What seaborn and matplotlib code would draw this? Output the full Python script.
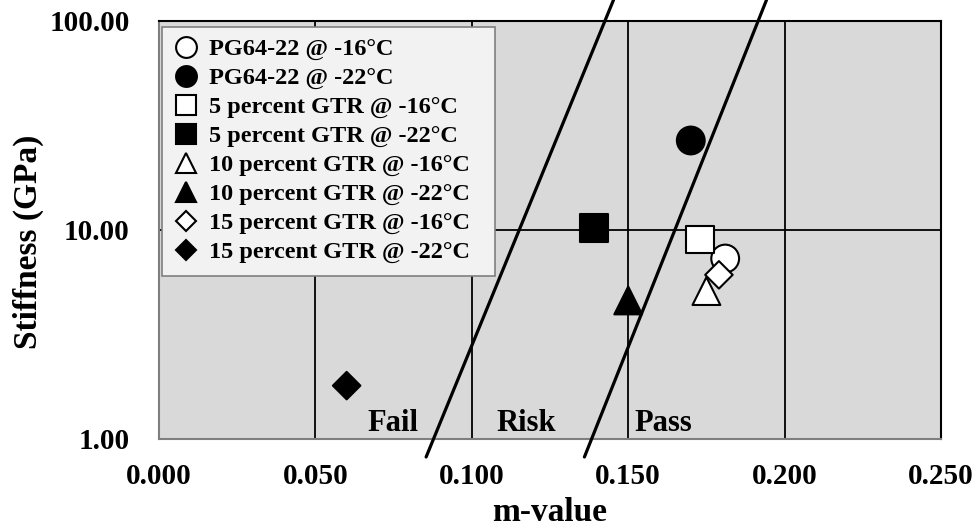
import seaborn as sns
import pandas as pd
import matplotlib.pyplot as plt
from matplotlib.lines import Line2D
from matplotlib.ticker import FixedLocator, FormatStrFormatter, NullLocator

# series
labels = ["PG64-22 @ -16°C", "PG64-22 @ -22°C",
          "5 percent GTR @ -16°C", "5 percent GTR @ -22°C",
          "10 percent GTR @ -16°C", "10 percent GTR @ -22°C",
          "15 percent GTR @ -16°C", "15 percent GTR @ -22°C"]
m_values = [0.181, 0.170, 0.173, 0.139, 0.175, 0.150, 0.179, 0.060]
stiffness = [7.3, 26.8, 9.0, 10.2, 5.1, 4.6, 6.1, 1.8]
faces = ["white", "black"] * 4
marker_list = ["o", "o", "s", "s", "^", "^", "D", "D"]
marker_pts = [20, 20, 20, 20, 20, 20, 14, 14]

# fail/risk and risk/pass boundaries (m at bottom, m at top, S range)
boundary_s = [0.82, 126]
boundary_fail = [0.0854, 0.1453]
boundary_pass = [0.136, 0.1942]

zone_names = ["Fail", "Risk", "Pass"]
zone_m = [0.0665, 0.1078, 0.152]
zone_s = 1.09

df = pd.DataFrame({"m": m_values, "S": stiffness, "series": labels})

sns.set_style("white")
plt.rcParams["font.family"] = ["Liberation Serif", "DejaVu Serif"]
plt.rcParams["font.weight"] = "bold"
for key in ["text.color", "axes.labelcolor", "xtick.color", "ytick.color"]:
    plt.rcParams[key] = "black"

fig = plt.figure(figsize=(9.77, 5.31), dpi=100)
ax = fig.add_axes([0.1627, 0.1733, 0.8005, 0.7872])
ax.set_facecolor("#d9d9d9")

ax.set_yscale("log")
ax.set_xlim(0, 0.25)
ax.set_ylim(1, 100)

ax.xaxis.set_major_locator(FixedLocator([0, 0.05, 0.10, 0.15, 0.20, 0.25]))
ax.xaxis.set_major_formatter(FormatStrFormatter("%.3f"))
ax.yaxis.set_major_locator(FixedLocator([1, 10, 100]))
ax.yaxis.set_major_formatter(FormatStrFormatter("%.2f"))
ax.yaxis.set_minor_locator(NullLocator())
ax.grid(True, color="black", linewidth=1.3)
ax.set_axisbelow(True)

for side in ["left", "bottom"]:
    ax.spines[side].set_color("#7f7f7f")
    ax.spines[side].set_linewidth(1.5)
for side in ["top", "right"]:
    ax.spines[side].set_color("black")
    ax.spines[side].set_linewidth(1.5)

ax.tick_params(axis="x", length=0, pad=17, labelsize=21)
ax.tick_params(axis="y", length=4, pad=17, labelsize=21)

sns.scatterplot(data=df, x="m", y="S", hue="series", style="series", size="series",
                palette=dict(zip(labels, faces)),
                markers=dict(zip(labels, marker_list)),
                sizes=dict(zip(labels, [p ** 2 for p in marker_pts])),
                edgecolor="black", linewidth=1.5, legend=False, ax=ax, zorder=4)

for line in (boundary_fail, boundary_pass):
    ax.plot(line, boundary_s, color="black", linewidth=2.3, clip_on=False, zorder=3)

for name, xm in zip(zone_names, zone_m):
    ax.text(xm, zone_s, name, fontsize=22, fontweight="bold", ha="left", va="baseline")

handles = [Line2D([], [], linestyle="", marker=mk, markersize=p * 0.75,
                  markerfacecolor=fc, markeredgecolor="black", markeredgewidth=1.5)
           for mk, p, fc in zip(marker_list, marker_pts, faces)]
leg = ax.legend(handles, labels, loc="upper left", bbox_to_anchor=(0.004, 0.986, 0.426, 0.0),
                mode="expand", ncol=1, fontsize=17.5, frameon=True, fancybox=False,
                facecolor="#f2f2f2", edgecolor="#7f7f7f", framealpha=1,
                handlelength=1.0, handletextpad=0.45, labelspacing=0.28,
                borderpad=0.5, borderaxespad=0)
leg.get_frame().set_linewidth(1.2)
leg.set_zorder(5)

ax.set_xlabel("m-value", fontsize=24, fontweight="bold", labelpad=5)
ax.set_ylabel("Stiffness (GPa)", fontsize=24, fontweight="bold")
ax.yaxis.set_label_coords(-0.147, 0.471)

fig.savefig("out.png", dpi=100)
